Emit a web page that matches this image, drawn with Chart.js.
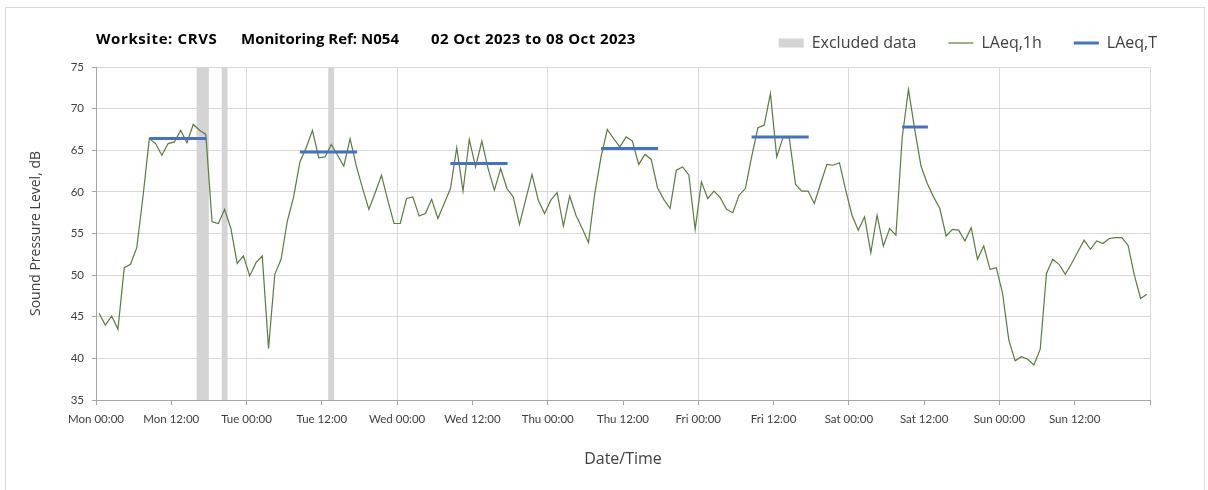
<!DOCTYPE html>
<html>
<head>
<meta charset="utf-8">
<script src="https://cdn.jsdelivr.net/npm/chart.js@4.4.0/dist/chart.umd.min.js"></script>
<style>
  html, body { margin: 0; padding: 0; background: #fff; }
  #wrap { position: relative; width: 1208px; height: 490px; overflow: hidden; }
  #frame { position: absolute; left: 5px; top: 7px; width: 1200px; height: 500px; border: 1px solid #d9d9d9; box-sizing: border-box; }
  .ttl { position: absolute; top: 28px; line-height: 20px; font: bold 15px "Open Sans", sans-serif; color: #000; white-space: pre; }
  canvas { position: absolute; left: 0; top: 0; }
</style>
</head>
<body>
<div id="wrap">
  <div id="frame"></div>
  <canvas id="chart" width="1208" height="490"></canvas>
  <span class="ttl" style="left:96px; letter-spacing:0.6px">Worksite: CRVS</span>
  <span class="ttl" style="left:241px">Monitoring Ref: N054</span>
  <span class="ttl" style="left:431px; letter-spacing:0.4px">02 Oct 2023 to 08 Oct 2023</span>
</div>
<script>
'use strict';

// hourly LAeq,1h values, Mon 00:00 -> Sun 24:00 (one per hour, plotted mid-hour)
const hourlyLevels = [
  45.4, 44.0, 45.1, 43.5, 50.9, 51.3, 53.3, 59.5, 66.4, 65.8, 64.4, 65.8,
  66.0, 67.4, 65.9, 68.1, 67.4, 66.9, 56.4, 56.2, 57.9, 55.6, 51.4, 52.3,
  49.9, 51.5, 52.3, 41.2, 50.1, 51.9, 56.5, 59.4, 63.6, 65.3, 67.4, 64.1,
  64.2, 65.7, 64.4, 63.1, 66.4, 63.1, 60.4, 57.9, 59.9, 62.0, 59.0, 56.2,
  56.2, 59.2, 59.4, 57.1, 57.4, 59.1, 56.8, 58.6, 60.4, 65.3, 60.1, 66.3,
  63.0, 66.1, 62.8, 60.2, 62.8, 60.4, 59.4, 56.1, 59.1, 62.1, 59.0, 57.4,
  59.0, 59.9, 55.9, 59.5, 57.2, 55.6, 53.9, 59.8, 64.2, 67.5, 66.4, 65.4,
  66.6, 66.1, 63.3, 64.5, 63.9, 60.5, 59.1, 58.0, 62.6, 63.0, 62.0, 55.5,
  61.2, 59.2, 60.1, 59.3, 57.9, 57.5, 59.6, 60.4, 64.2, 67.7, 68.0, 71.8,
  64.2, 66.5, 66.5, 60.9, 60.1, 60.1, 58.6, 61.0, 63.3, 63.2, 63.5, 60.2,
  57.2, 55.4, 57.0, 52.7, 57.2, 53.5, 55.6, 54.8, 66.5, 72.3, 67.5, 63.1,
  61.0, 59.4, 58.0, 54.7, 55.5, 55.4, 54.1, 55.7, 51.9, 53.5, 50.7, 50.9,
  47.8, 42.2, 39.7, 40.2, 39.9, 39.2, 41.1, 50.2, 51.9, 51.3, 50.1, 51.4,
  52.8, 54.2, 53.1, 54.1, 53.8, 54.4, 54.5, 54.5, 53.6, 50.0, 47.2, 47.7
];
const firstHour = 0.5;

// LAeq,T daytime periods (hours from Mon 00:00)
const periodFrom = [8.5, 32.5, 56.5, 80.5, 104.5, 128.5];
const periodTo = [17.6, 41.6, 65.6, 89.6, 113.6, 132.6];
const periodLevels = [66.4, 64.8, 63.4, 65.2, 66.6, 67.8];

// excluded data bands (hours from Mon 00:00)
const excludedFrom = [16, 20, 37];
const excludedTo = [18, 21, 38];

const dayNames = ['Mon', 'Tue', 'Wed', 'Thu', 'Fri', 'Sat', 'Sun'];
const yMin = 35;
const yMax = 75;

const hourlyPoints = hourlyLevels.map((v, i) => {
  return { x: firstHour + i, y: v };
});

let periodPoints = [];
periodLevels.forEach((lvl, k) => {
  periodPoints.push({ x: periodFrom[k], y: lvl });
  periodPoints.push({ x: periodTo[k], y: lvl });
  periodPoints.push({ x: periodTo[k], y: null });
});

let excludedPoints = [];
excludedFrom.forEach((from, k) => {
  excludedPoints.push({ x: from, y: yMax });
  excludedPoints.push({ x: excludedTo[k], y: yMax });
  excludedPoints.push({ x: excludedTo[k], y: null });
});

const tickFont = { family: 'Lato, sans-serif', size: 11.5 };
const textColor = '#404040';
const axisColor = '#a6a6a6';
const gridColor = '#d9d9d9';

// nudge the legend row up so it sits level with the title
const legendNudge = {
  id: 'legendNudge',
  afterLayout(chart) {
    if (chart.legend) {
      chart.legend.top -= 6;
      chart.legend.bottom -= 6;
    }
  },
};

new Chart(document.getElementById('chart'), {
  type: 'line',
  plugins: [legendNudge],
  data: {
    datasets: [
      {
        label: 'Excluded data',
        data: excludedPoints,
        order: 3,
        fill: 'start',
        backgroundColor: '#d4d4d4',
        borderColor: 'rgba(0,0,0,0)',
        borderWidth: 0,
        pointRadius: 0,
        pointStyle: 'rect',
        spanGaps: false,
      },
      {
        label: 'LAeq,1h',
        data: hourlyPoints,
        order: 2,
        borderColor: '#5b7b3f',
        backgroundColor: '#5b7b3f',
        borderWidth: 1.2,
        pointRadius: 0,
        pointStyle: 'line',
        fill: false,
      },
      {
        label: 'LAeq,T',
        data: periodPoints,
        order: 1,
        borderColor: '#4472c4',
        backgroundColor: '#4472c4',
        borderWidth: 3,
        pointRadius: 0,
        pointStyle: 'line',
        fill: false,
        spanGaps: false,
      },
    ],
  },
  options: {
    responsive: false,
    animation: false,
    events: [],
    layout: { padding: { left: 0, right: 19, top: 0, bottom: 0 } },
    plugins: {
      tooltip: { enabled: false },
      legend: {
        position: 'top',
        align: 'end',
        labels: {
          usePointStyle: true,
          pointStyleWidth: 25,
          boxHeight: 9,
          padding: 32,
          color: textColor,
          font: { family: '"Open Sans", sans-serif', size: 16 },
          sort: (a, b) => a.datasetIndex - b.datasetIndex,
        },
      },
    },
    scales: {
      x: {
        type: 'linear',
        min: 0,
        max: 168,
        ticks: {
          stepSize: 12,
          autoSkip: false,
          maxRotation: 0,
          padding: 7,
          color: textColor,
          font: tickFont,
          callback: function (value) {
            if (value >= 168) {
              return '';
            }
            const day = dayNames[Math.floor(value / 24)];
            return day + (value % 24 === 0 ? ' 00:00' : ' 12:00');
          },
        },
        grid: {
          color: function (context) {
            return context.tick && context.tick.value % 24 === 0 ? gridColor : 'rgba(0,0,0,0)';
          },
          tickColor: axisColor,
          tickLength: 5,
        },
        border: { color: axisColor },
        title: {
          display: true,
          text: 'Date/Time',
          color: textColor,
          font: { family: '"Open Sans", sans-serif', size: 16 },
          padding: { top: 0, bottom: 21 },
        },
        afterFit: function (scale) {
          scale.height = 90;
          scale.paddingRight = 58;
        },
      },
      y: {
        min: yMin,
        max: yMax,
        ticks: {
          stepSize: 5,
          padding: 8,
          color: textColor,
          font: tickFont,
        },
        grid: {
          color: gridColor,
          tickColor: axisColor,
          tickLength: 4,
        },
        border: { color: axisColor },
        title: {
          display: true,
          text: 'Sound Pressure Level, dB',
          color: textColor,
          font: { family: '"Open Sans", sans-serif', size: 14 },
          padding: { top: 28, bottom: 0 },
        },
        afterFit: function (scale) {
          scale.width = 96;
          scale.paddingTop = 67;
        },
      },
    },
  },
});
</script>
</body>
</html>
